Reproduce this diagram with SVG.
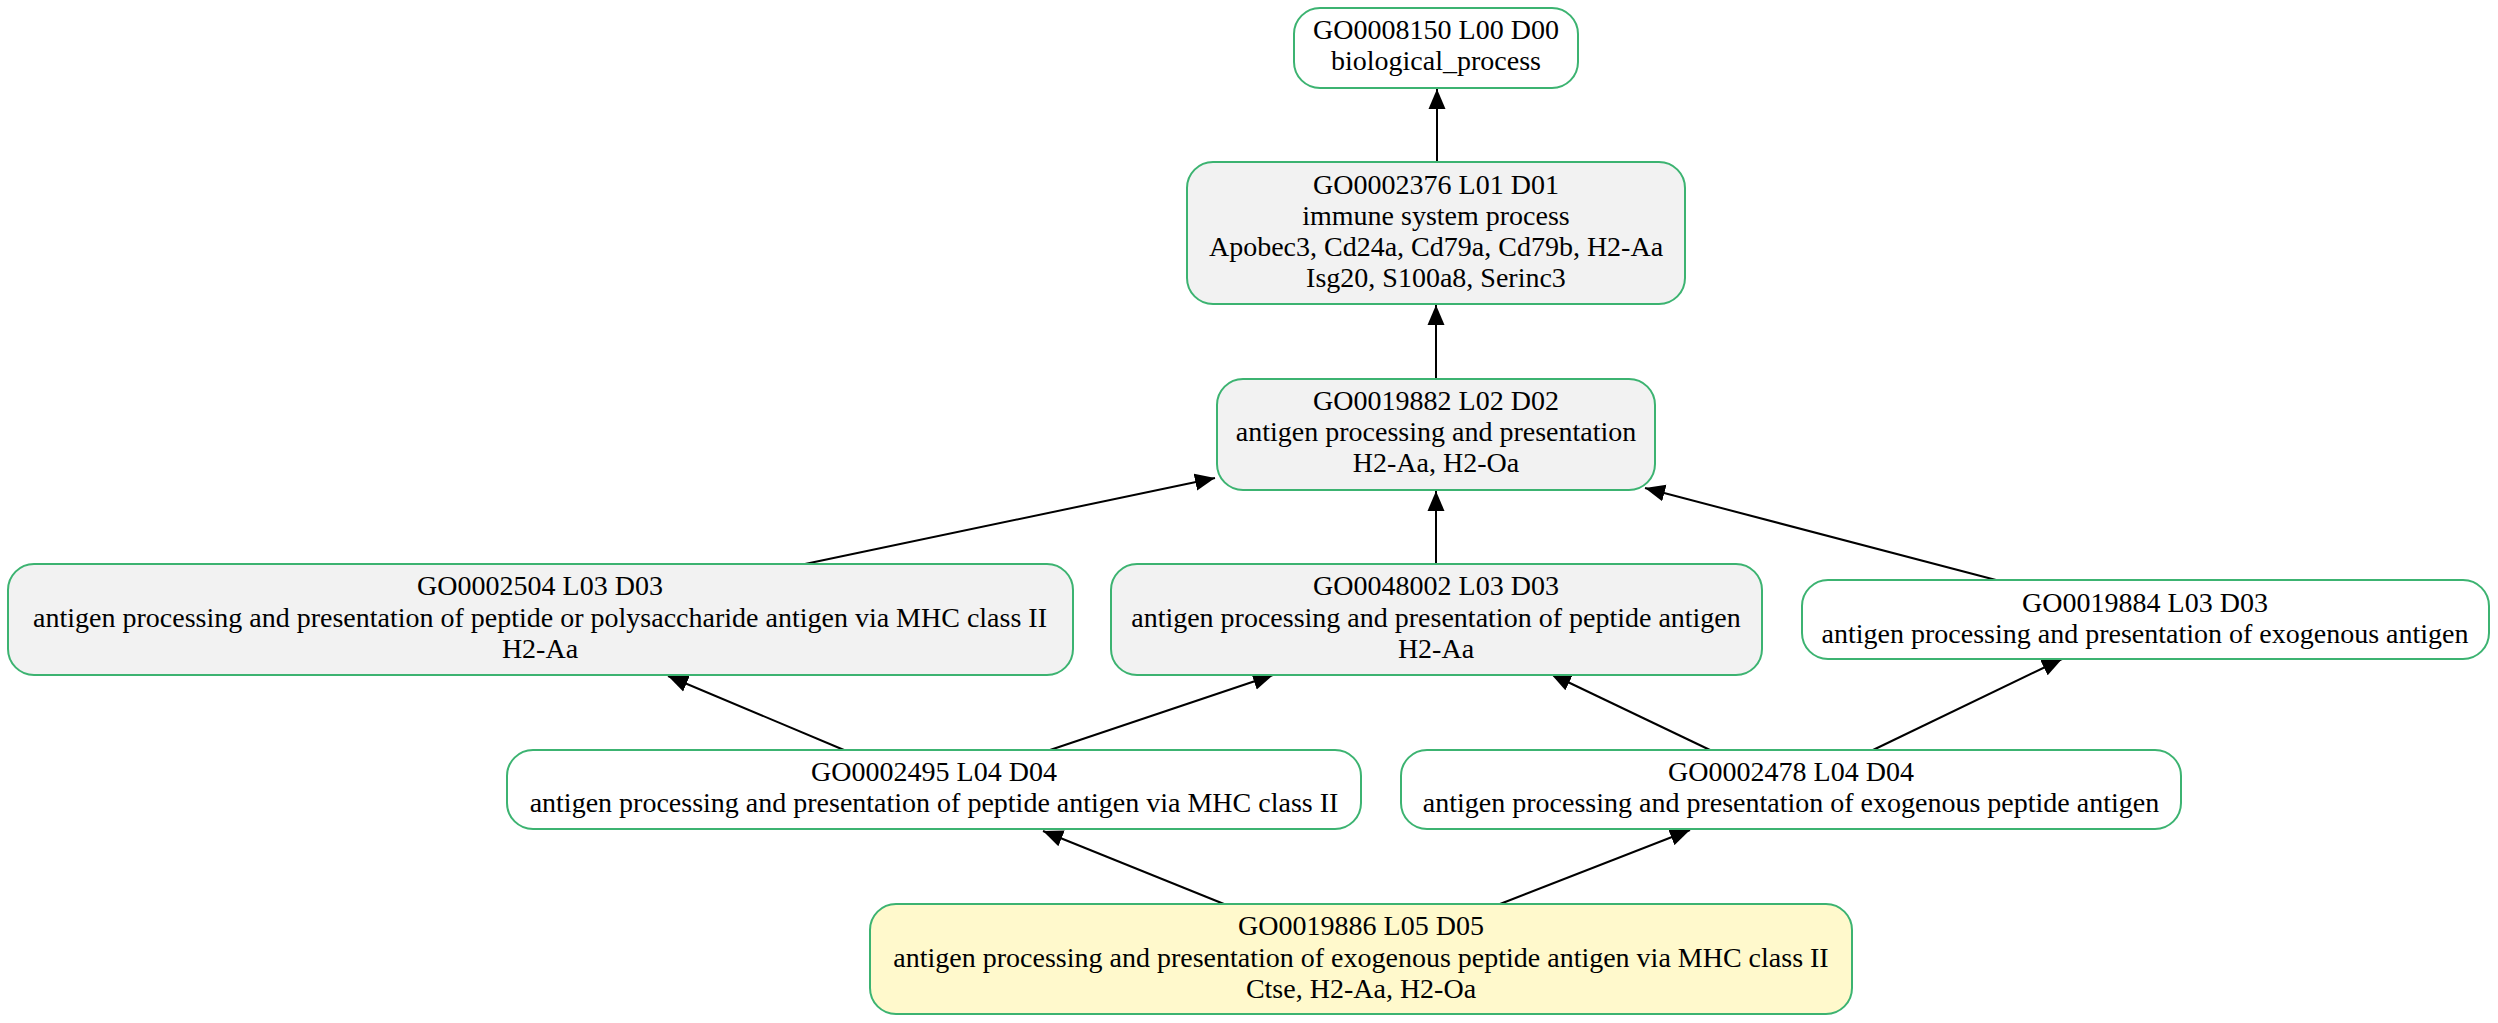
<svg xmlns="http://www.w3.org/2000/svg" width="2498" height="1023" viewBox="0 0 2498 1023">
<style>
.n rect{stroke:#3cb371;stroke-width:2}
.w{fill:#ffffff}
.g{fill:#f2f2f2}
.y{fill:#fff9cc}
text{font-family:"Liberation Serif","Times New Roman",serif;font-size:28px;fill:#000;text-anchor:middle}
#edges line{stroke:#000;stroke-width:2;marker-end:url(#ah)}
</style>
<defs>
<marker id="ah" markerUnits="userSpaceOnUse" viewBox="0 -9 21 18" refX="20" refY="0" markerWidth="21" markerHeight="18" orient="auto">
<path d="M0,-8.5 L20,0 L0,8.5 z" fill="#000"/>
</marker>
</defs>
<rect width="2498" height="1023" fill="#fff"/>
<g id="edges">
<line x1="1437" y1="163" x2="1437" y2="89"/>
<line x1="1436" y1="379" x2="1436" y2="305"/>
<line x1="805" y1="564" x2="1215" y2="478"/>
<line x1="1436" y1="564" x2="1436" y2="491"/>
<line x1="1996" y1="580" x2="1645" y2="488"/>
<line x1="844" y1="750" x2="668" y2="676"/>
<line x1="1050" y1="750" x2="1273" y2="675"/>
<line x1="1710" y1="750" x2="1551" y2="674"/>
<line x1="1873" y1="750" x2="2062" y2="659"/>
<line x1="1224" y1="904" x2="1043" y2="831"/>
<line x1="1500" y1="904" x2="1690" y2="830"/>
</g>
<g id="GO0008150" class="n">
<rect class="w" x="1294" y="8" width="284" height="80" rx="26"/>
<text x="1436" y="39">GO0008150 L00 D00</text>
<text x="1436" y="70">biological_process</text>
</g>
<g id="GO0002376" class="n">
<rect class="g" x="1187" y="162" width="498" height="142" rx="26"/>
<text x="1436" y="194">GO0002376 L01 D01</text>
<text x="1436" y="225">immune system process</text>
<text x="1436" y="256">Apobec3, Cd24a, Cd79a, Cd79b, H2-Aa</text>
<text x="1436" y="287">Isg20, S100a8, Serinc3</text>
</g>
<g id="GO0019882" class="n">
<rect class="g" x="1217" y="379" width="438" height="111" rx="26"/>
<text x="1436" y="410">GO0019882 L02 D02</text>
<text x="1436" y="441">antigen processing and presentation</text>
<text x="1436" y="472">H2-Aa, H2-Oa</text>
</g>
<g id="GO0002504" class="n">
<rect class="g" x="8" y="564" width="1065" height="111" rx="26"/>
<text x="540" y="595">GO0002504 L03 D03</text>
<text x="540" y="627">antigen processing and presentation of peptide or polysaccharide antigen via MHC class II</text>
<text x="540" y="658">H2-Aa</text>
</g>
<g id="GO0048002" class="n">
<rect class="g" x="1111" y="564" width="651" height="111" rx="26"/>
<text x="1436" y="595">GO0048002 L03 D03</text>
<text x="1436" y="627">antigen processing and presentation of peptide antigen</text>
<text x="1436" y="658">H2-Aa</text>
</g>
<g id="GO0019884" class="n">
<rect class="w" x="1802" y="580" width="687" height="79" rx="26"/>
<text x="2145" y="612">GO0019884 L03 D03</text>
<text x="2145" y="643">antigen processing and presentation of exogenous antigen</text>
</g>
<g id="GO0002495" class="n">
<rect class="w" x="507" y="750" width="854" height="79" rx="26"/>
<text x="934" y="781">GO0002495 L04 D04</text>
<text x="934" y="812">antigen processing and presentation of peptide antigen via MHC class II</text>
</g>
<g id="GO0002478" class="n">
<rect class="w" x="1401" y="750" width="780" height="79" rx="26"/>
<text x="1791" y="781">GO0002478 L04 D04</text>
<text x="1791" y="812">antigen processing and presentation of exogenous peptide antigen</text>
</g>
<g id="GO0019886" class="n">
<rect class="y" x="870" y="904" width="982" height="110" rx="26"/>
<text x="1361" y="935">GO0019886 L05 D05</text>
<text x="1361" y="967">antigen processing and presentation of exogenous peptide antigen via MHC class II</text>
<text x="1361" y="998">Ctse, H2-Aa, H2-Oa</text>
</g>
</svg>
